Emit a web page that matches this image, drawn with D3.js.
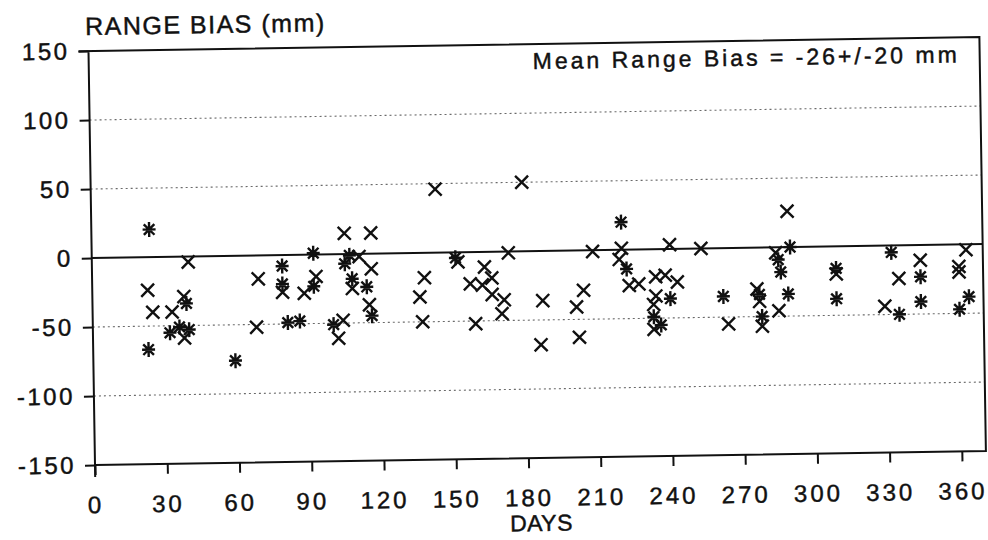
<!DOCTYPE html>
<html lang="en">
<head>
<meta charset="UTF-8">
<title>Range Bias</title>
<script src="https://d3js.org/d3.v7.min.js"></script>
<style>
  body { margin: 0; background: #fff; }
  svg text { font-family: "Liberation Sans", Arial, sans-serif; fill: #111; stroke: #111; stroke-width: 0.45px; }
</style>
</head>
<body>
<svg id="chart"></svg>
<script>
// passes marked with a cross
const crossDays = [23, 25, 33, 38, 38, 40, 68, 69, 79, 88, 93, 102, 104, 105, 108, 111, 115, 116, 116,
  136, 137, 138, 143, 152, 157, 159, 162, 163, 166, 166, 170, 171, 173, 179, 186, 187, 201, 202, 204,
  208, 219, 220, 223, 227, 233, 233, 234, 234, 238, 240, 243, 253, 264, 276, 277, 278, 284, 285, 289,
  309, 329, 335, 344, 360, 360, 363];
const crossBias = [-24, -40, -40, -29, -59, -4, -52, -17, -27, -28, -16, -61, -48, 15, -25, -2, -37, 15, -11,
  -32, -50, -18, 46, -7, -23, -52, -24, -11, -19, -31, -45, -35, -1, 50, -68, -36, -41, -63, -29,
  -1, -7, 1, -26, -25, -40, -58, -20, -34, -19, 3, -24, 0, -55, -30, -39, -57, -4, -46, 26,
  -20, -44, -24, -11, -16, -20, -4];

// passes marked with an asterisk
const starDays = [23, 24, 32, 36, 39, 40, 59, 79, 79, 81, 86, 92, 92, 100, 105, 107, 108, 114, 116,
  151, 220, 222, 233, 236, 240, 262, 277, 278, 285, 286, 289, 290, 309, 309, 332, 335, 344, 344, 360, 364];
const starBias = [-67, 20, -55, -51, -34, -53, -76, -8, -21, -49, -48, 1, -23, -51, -7, -1, -18, -24, -45,
  -4, 20, -14, -49, -55, -36, -35, -34, -50, -9, -18, -34, 0, -16, -38, -5, -50, -23, -41, -47, -38];

const dayTicks = [0, 30, 60, 90, 120, 150, 180, 210, 240, 270, 300, 330, 360];
const biasTicks = [-150, -100, -50, 0, 50, 100, 150];
const gridValues = [-100, -50, 50, 100];

const width = 988, height = 540;
const svg = d3.select("#chart").attr("width", width).attr("height", height);
// the scanned sheet sits slightly askew
const g = svg.append("g").attr("transform", "rotate(-0.9, 95, 465)");

const x = d3.scaleLinear().domain([0, 370]).range([95, 986]);
const y = d3.scaleLinear().domain([-150, 150]).range([465, 51]);

// dotted grid
g.append("g").selectAll("line").data(gridValues).join("line")
  .attr("x1", x(0)).attr("x2", x(370))
  .attr("y1", d => y(d)).attr("y2", d => y(d))
  .attr("stroke", "#6a6a6a").attr("stroke-width", 1.1).attr("stroke-dasharray", "2,3");

// zero line
g.append("line")
  .attr("x1", x(0)).attr("x2", x(370)).attr("y1", y(0)).attr("y2", y(0))
  .attr("stroke", "#111").attr("stroke-width", 2);

// frame: top, right, bottom, left
g.append("path")
  .attr("d", `M${x(0) - 10},${y(150)}H${x(370)}V${y(-150)}H${x(0)}M${x(0)},${y(150)}V${y(-150) + 12}`)
  .attr("fill", "none").attr("stroke", "#111").attr("stroke-width", 2);

const yAxis = d3.axisLeft(y).tickValues(biasTicks).tickSize(10).tickSizeOuter(0)
  .tickPadding(9).tickFormat(d => String(d));
const yg = g.append("g").attr("transform", `translate(${x(0)},0)`).call(yAxis);
yg.select(".domain").remove();
yg.selectAll("line").attr("stroke", "#111").attr("stroke-width", 2);
yg.selectAll("text").attr("font-size", 24).attr("letter-spacing", 2.5)
  .attr("font-family", "'Liberation Sans', Arial, sans-serif").attr("fill", "#111");

const xAxis = d3.axisBottom(x).tickValues(dayTicks).tickSize(10).tickSizeOuter(0)
  .tickPadding(21).tickFormat(d => String(d));
const xg = g.append("g").attr("transform", `translate(0,${y(-150)})`).call(xAxis);
xg.select(".domain").remove();
xg.selectAll("line").attr("stroke", "#111").attr("stroke-width", 2);
xg.selectAll("text").attr("font-size", 24).attr("letter-spacing", 3)
  .attr("font-family", "'Liberation Sans', Arial, sans-serif").attr("fill", "#111");

// titles
g.append("text").attr("x", 92).attr("y", 35)
  .attr("font-size", 25).attr("letter-spacing", 1.5).text("RANGE BIAS (mm)");
g.append("text").attr("x", (x(0) + x(370)) / 2).attr("y", 538).attr("text-anchor", "middle")
  .attr("font-size", 23).attr("letter-spacing", 0.5).text("DAYS");
g.append("text").attr("x", 539).attr("y", 76)
  .attr("font-size", 23).attr("letter-spacing", 3).text("Mean Range Bias = -26+/-20 mm");

// markers
const crossPath = "M-6.5,-6.5L6.5,6.5M-6.5,6.5L6.5,-6.5";
const starPath = "M0,-7.5V7.5M-6.5,0H6.5M-5.3,-5.3L5.3,5.3M-5.3,5.3L5.3,-5.3";

g.append("g").selectAll("path").data(d3.range(crossDays.length)).join("path")
  .attr("transform", i => `translate(${x(crossDays[i])},${y(crossBias[i])})`)
  .attr("d", crossPath).attr("fill", "none").attr("stroke", "#111").attr("stroke-width", 2.4);

g.append("g").selectAll("path").data(d3.range(starDays.length)).join("path")
  .attr("transform", i => `translate(${x(starDays[i])},${y(starBias[i])})`)
  .attr("d", starPath).attr("fill", "none").attr("stroke", "#111").attr("stroke-width", 2.4);
</script>
</body>
</html>
